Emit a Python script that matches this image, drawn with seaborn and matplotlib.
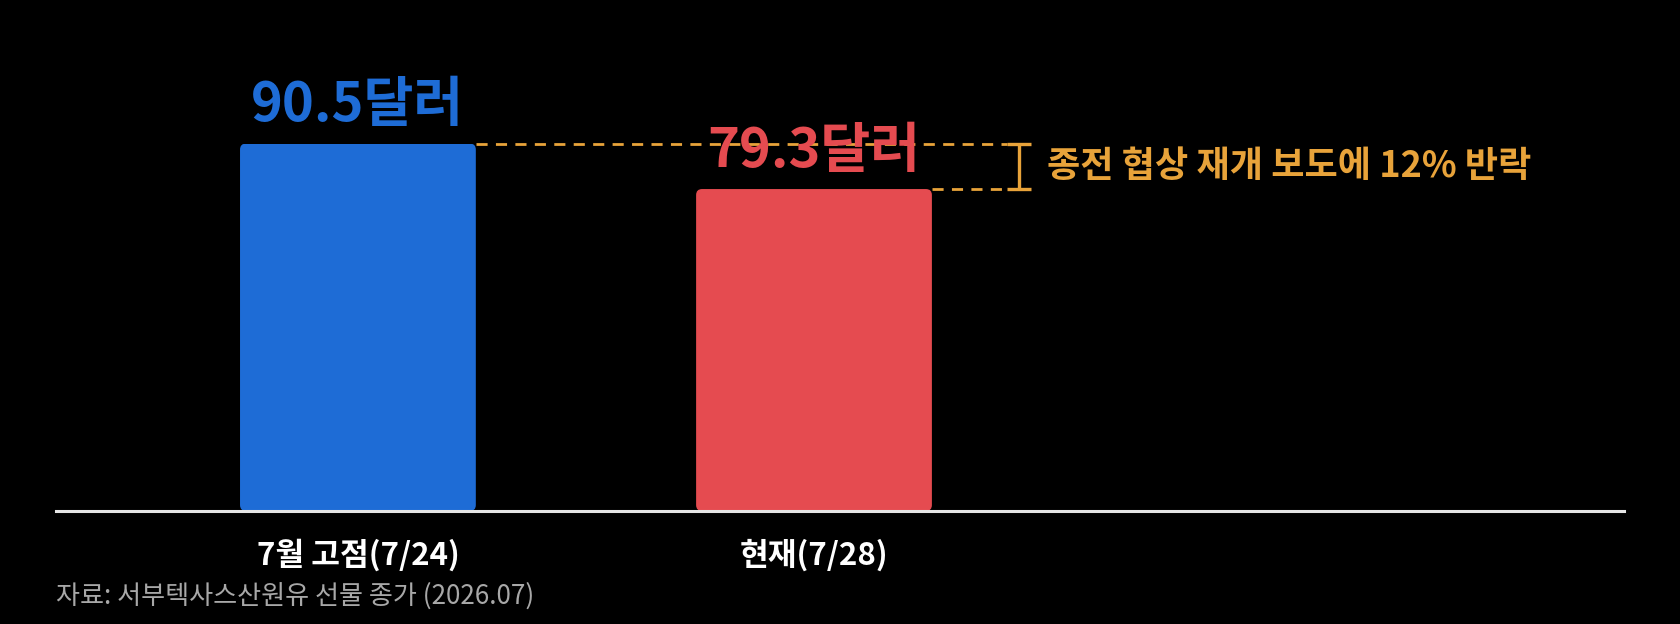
import matplotlib
matplotlib.use("Agg")
import matplotlib.pyplot as plt
from matplotlib.patches import FancyBboxPatch
import seaborn as sns
import pandas as pd

# ---- data ----
categories = ["7월 고점(7/24)", "현재(7/28)"]
values = [90.5, 79.3]
value_labels = ["90.5달러", "79.3달러"]
bar_colors = ["#1E6CD6", "#E54B50"]
annotation_text = "종전 협상 재개 보도에 12% 반락"
source_text = "자료: 서부텍사스산원유 선물 종가 (2026.07)"

sns.set_theme(style="white")
plt.rcParams['font.family'] = ['Noto Sans CJK KR', 'DejaVu Sans']

df = pd.DataFrame({"cat": categories, "val": values})

fig = plt.figure(figsize=(16.8, 6.24), dpi=100, facecolor="black")
ax = fig.add_axes([56/1680, 113/624, 1568/1680, 470/624])
ax.set_facecolor("black")

sns.barplot(data=df, x="cat", y="val", hue="cat", palette=bar_colors,
            width=0.517, legend=False, ax=ax, saturation=1,
            edgecolor="none", linewidth=0)

ax.set_xlim(-0.662, 2.776)
ax.set_ylim(0, 470/4.06)

# rounded corners via clip paths built from the bars' own geometry
px_per_x = 1568 / (2.776 + 0.662)
px_per_y = 4.06
r_px = 6
for bar in ax.patches:
    x0, y0 = bar.get_x(), bar.get_y()
    w, h = bar.get_width(), bar.get_height()
    rx = r_px / px_per_x
    clip = FancyBboxPatch((x0, y0), w, h,
                          boxstyle=f"round,pad=0,rounding_size={rx}",
                          mutation_aspect=(r_px / px_per_y) / rx,
                          transform=ax.transData, facecolor="none", edgecolor="none")
    ax.add_patch(clip)
    clip.set_visible(False)
    bar.set_clip_path(clip)

for s in ["top", "right", "left"]:
    ax.spines[s].set_visible(False)
ax.spines["bottom"].set_color("#e6e6e6")
ax.spines["bottom"].set_linewidth(2.2)
ax.spines["bottom"].set_zorder(5)
ax.set_yticks([])
ax.set_xlabel("")
ax.set_ylabel("")
ax.tick_params(axis="x", length=0, pad=20, labelsize=22.5, labelcolor="white")
for t in ax.get_xticklabels():
    t.set_fontweight("bold")

# value labels
for i, (v, lab, c) in enumerate(zip(values, value_labels, bar_colors)):
    ax.annotate(lab, xy=(i, v), xytext=(0, 16), textcoords="offset points",
                ha="center", va="baseline", fontsize=39, fontweight="bold", color=c)

# dashed guide lines and bracket
orange = "#E8A33A"
half_w = 0.517 / 2
x_end = 1.423
x_br = 1.449
ax.plot([0 + half_w, x_end], [values[0], values[0]], color=orange, lw=2,
        dashes=(4, 3), zorder=1)
ax.plot([1 + half_w, x_end], [values[1], values[1]], color=orange, lw=2,
        dashes=(4, 3), zorder=1)
ax.plot([x_br, x_br], [values[1], values[0]], color=orange, lw=2.4, solid_capstyle="butt")
for v in values:
    ax.plot([x_end, 1.475], [v, v], color=orange, lw=2.4, solid_capstyle="butt")
ax.text(1.51, (values[0] + values[1]) / 2, annotation_text, ha="left", va="center",
        fontsize=26, fontweight="bold", color=orange)

fig.text(56/1680, 1 - 596/624, source_text, ha="left", va="center",
         fontsize=18.8, color="#a8a8a8")

fig.savefig("out.png", dpi=100, facecolor="black")
